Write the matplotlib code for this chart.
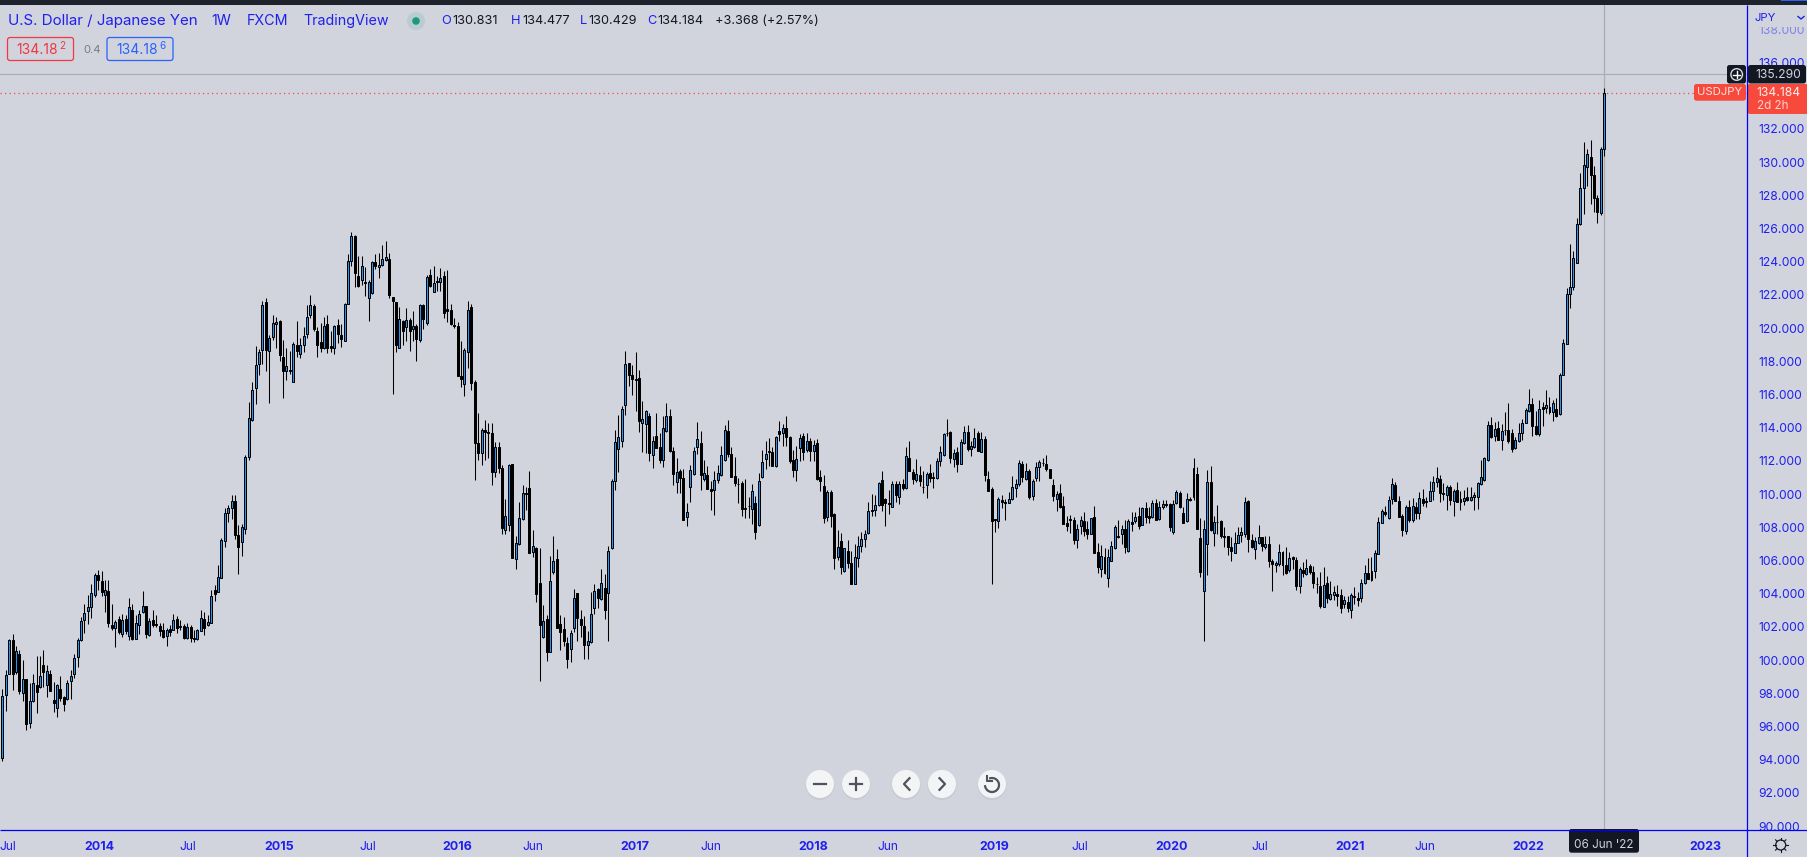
import numpy as np
import matplotlib
matplotlib.use('Agg')
import matplotlib.pyplot as plt
from matplotlib.patches import Rectangle, Circle, FancyBboxPatch

# weekly USDJPY candles
opens = [
    94.34,98.14,99.4,101.4,99.5,100.6,98.24,99.06,96.44,97.76,
    98.76,98.6,99.9,98.72,99.4,97.84,97.36,98.5,98,97.9,
    98.98,99.4,100.4,101.42,102.64,103.18,103.4,104.14,105.34,104.94,
    104.14,104.34,102.34,102.16,102.7,101.76,102.66,101.66,103.2,101.5,
    102.32,103.1,103.44,101.7,102.6,102.4,102.28,102.04,101.66,102.1,
    102.04,102.7,102.26,102.28,101.54,102.2,101.56,101.5,101.98,102.7,
    102.3,102.46,104.44,104.3,105.16,107.36,109,109.3,109.75,107.7,
    107.3,108.1,112.4,114.58,116.54,117.94,118.78,121.68,118.72,119.54,
    120.32,120.54,118.38,117.52,117.6,116.9,119.08,118.54,119.06,119.72,
    120.88,121.42,119.92,119.28,118.9,120.34,119.02,118.9,120.3,119.68,
    119.32,121.54,124.1,125.64,123.24,122.96,122.88,121.88,122.18,124.06,
    123.76,123.88,124.16,124.24,121.96,121.68,118.94,120.54,120.16,120.58,
    120.04,120.24,119.38,121.48,120.38,123.28,122.26,122.9,122.86,123.24,
    121.24,121.18,120.28,120.22,117.22,116.74,118.68,121.36,116.86,113.2,
    112.6,114,113.9,113.8,111.5,113,111.73,108.03,108.29,111.95,
    106.29,107.15,108.67,110.25,110.53,106.67,106.93,104.81,101.61,102.71,
    100.71,105.47,106.27,102.41,102.11,101.27,100.91,102.15,104.23,102.71,
    102.29,101.15,101.31,103.35,104.47,103.91,104.53,104.21,106.93,110.97,
    112.85,113.33,115.47,118.01,117.29,117.05,117.13,114.39,114.35,114.85,
    112.53,113.65,112.99,112.19,113.93,114.85,112.73,110.91,111.53,111.13,
    108.77,110.61,111.35,113.01,113.21,111.09,111.29,110.45,110.39,110.99,
    111.29,112.19,113.95,112.56,111.24,110.78,110.82,109.3,109.42,109.26,
    109.62,108.3,111.18,112.24,112.72,112.68,111.82,113.94,113.82,114.12,
    113.58,112.2,111.58,112.9,113.62,112.78,113.36,112.72,113.24,111.18,
    110.64,108.82,110.28,108.98,106.42,107.36,105.56,106.76,106.02,104.76,
    106.36,107.04,107.46,107.86,109.2,109.2,109.5,111,109.86,109.62,
    109.38,110.76,109.96,110.76,110.5,112.34,111.48,111.02,111.32,110.58,
    110.7,111.42,111.18,111.1,112.14,112.5,113.82,113.88,112.28,112.66,
    111.96,113.22,113.88,112.84,112.96,113.8,112.66,113.48,111.06,110.46,
    108.66,108.58,109.8,109.66,109.62,109.84,110.54,110.74,111.96,111.08,
    111.54,110.02,111.1,111.78,112.02,111.96,111.66,110.72,109.86,110.22,
    109.44,108.44,108.66,108.6,107.4,108.28,108.54,108.06,107.8,108.78,
    106.68,105.66,106.4,105.12,106.18,106.92,107.66,107.8,108.06,106.74,
    108.48,108.54,108.84,108.34,109.32,108.86,108.78,109.6,108.68,109.38,
    109.56,109.56,107.92,109.62,110.21,109.05,108.57,109.85,109.97,111.39,
    107.53,104.33,107.17,110.89,107.81,108.49,108.57,107.63,107.65,106.97,
    106.63,107.23,107.71,107.75,109.75,107.41,106.87,107.23,107.57,106.97,
    107.17,106.15,105.91,105.95,106.69,105.93,105.59,106.39,106.21,104.63,
    105.61,105.37,105.87,105.49,104.79,104.65,103.43,104.83,103.87,104.13,
    104.17,104.13,103.61,103.69,103.21,104.01,103.93,103.93,104.85,105.43,
    105.01,105.55,106.59,108.43,109.09,108.73,109.85,110.73,109.77,108.87,
    107.98,109.4,108.64,109.4,109.02,109.88,109.74,109.74,110.34,110.86,
    111.08,110.22,110.08,110.58,109.76,110.4,109.66,109.72,109.98,109.78,
    109.96,109.96,110.74,110.98,112.2,114.3,113.64,114.12,113.4,114.02,
    114,113.84,112.92,113.34,113.82,114.42,115.16,115.56,114.24,113.74,
    115.38,115.32,115.4,115.06,115.26,114.96,117.32,119.16,122.12,122.58,
    124.02,126.32,128.48,129.72,130.34,129.26,127.88,127.02,130.831,
]
closes = [
    98.06,99.34,101.4,99.36,100.76,98.4,99.1,96.4,97.78,98.86,
    98.3,99.28,99.5,99.56,98.4,97.64,98.76,97.96,97.6,98.86,
    99.28,100.36,101.44,102.58,103.04,103.4,104.26,105.34,105,104.3,
    104.44,102.44,102.16,102.52,101.9,102.64,101.94,103.4,101.46,102.44,
    103,103.48,101.8,102.56,102.34,102.3,101.96,101.6,102.04,101.9,
    102.64,102.16,102.2,101.54,102.2,101.54,101.5,102,102.76,102.14,
    102.52,104.08,104.2,105.2,107.44,109,109.3,109.75,107.72,107,
    108.2,112.4,114.7,116.38,117.88,118.66,121.5,118.78,119.5,120.4,
    120.48,118.5,117.54,117.82,117.54,119.14,118.76,119.08,119.6,120.76,
    121.48,120.02,119.1,118.94,120.22,118.9,118.94,120.22,119.76,119.42,
    121.54,124.1,125.64,123.4,122.64,123.82,122.8,122.88,124.06,123.8,
    123.88,124.24,124.36,122.06,121.7,119.06,120.64,119.94,120.58,119.92,
    120.22,119.42,121.5,120.62,123.18,122.6,122.8,122.84,123.1,120.98,
    121.1,120.34,120.22,117.26,117.04,118.78,121.18,116.84,113.2,112.6,
    114,113.9,113.8,111.5,113,111.7,108.15,108.83,111.89,106.35,
    107.21,108.73,110.21,110.19,106.65,107.03,104.19,102.33,102.59,100.71,
    104.93,106.13,102.15,101.91,101.39,100.29,101.87,103.97,102.75,102.33,
    101.15,101.39,103.01,104.33,103.95,104.81,103.23,106.73,110.93,113.27,
    113.57,115.25,117.97,117.27,117.03,116.97,114.53,114.65,115.13,112.65,
    113.33,112.95,112.21,114.09,114.83,112.75,111.39,111.47,111.15,108.63,
    109.07,111.59,112.73,113.45,111.33,111.41,110.49,110.37,110.99,111.41,
    112.49,114.01,112.59,111.2,110.8,110.74,109.26,109.24,109.44,110.34,
    107.92,110.94,112.08,112.56,112.66,111.86,113.58,113.74,114.12,113.56,
    112.16,111.58,112.24,113.52,112.66,113.34,112.72,113.1,111.08,110.92,
    108.72,110.3,108.86,106.36,106.98,105.82,106.92,106.04,104.8,106.38,
    107.04,107.46,107.76,109.14,109.14,109.48,110.82,109.48,109.62,109.56,
    110.76,110.08,110.76,110.52,112.44,111.52,111.04,111.36,110.92,110.58,
    111.36,111.12,111.12,112.14,112.68,113.76,113.82,112.3,112.6,111.96,
    113.28,113.88,112.86,113.04,113.52,112.76,113.44,111.28,110.32,108.56,
    108.6,109.86,109.66,109.6,109.86,110.56,110.76,112.02,111.2,111.54,
    110,110.94,111.78,112.08,112,111.64,111.14,110.02,110.16,109.36,
    108.4,108.28,108.62,107.44,108.06,108.6,107.98,107.8,108.72,106.66,
    105.82,106.44,105.46,106.38,107.04,108.18,107.58,108.06,107.02,108.54,
    108.4,108.8,108.28,109.32,108.82,108.72,109.62,108.64,109.4,109.56,
    109.5,108.22,109.56,110.28,109.37,108.45,109.85,109.79,111.73,108.05,
    105.47,108.07,110.89,108.01,108.49,108.51,107.63,107.57,106.97,106.73,
    107.23,107.71,107.87,109.69,107.45,106.97,107.35,107.57,107.03,107.17,
    106.17,105.95,106.01,106.69,105.91,105.43,106.33,106.25,104.67,105.67,
    105.41,105.73,105.49,104.81,104.77,103.47,104.69,103.97,104.17,104.29,
    104.07,103.37,103.81,103.37,104.11,104.03,103.85,104.83,105.43,105.07,
    105.55,106.63,108.49,109.15,108.97,109.81,110.77,109.77,108.81,107.99,
    109.38,108.64,109.44,109,109.92,109.6,109.66,110.34,110.88,111.12,
    110.2,110.14,110.58,109.78,110.34,109.66,109.84,109.92,109.78,109.98,
    110.1,110.82,111.18,112.32,114.3,113.56,114.06,113.42,113.94,114,
    113.32,112.84,113.38,113.82,114.42,115.2,115.56,114.24,113.74,115.26,
    115.24,115.5,115.06,115.62,114.82,117.32,119.18,122.12,122.54,124.28,
    126.36,128.48,129.86,130.52,129.24,127.88,127.08,130.8,134.184,
]
highs = [
    98.5,99.64,101.5,101.76,101.06,100.8,100.2,99.06,98.86,99.36,
    100.44,100.44,100.8,99.9,99.6,98.94,98.8,99.24,98.1,99.04,
    99.6,100.6,101.56,102.8,103.56,104.1,104.8,105.46,105.6,105.54,
    105,105.04,103.6,102.6,102.84,103,102.9,103.96,103.6,102.9,
    103.2,104.34,103.44,102.76,103.2,102.9,102.46,102.44,102.16,102.3,
    103,102.84,102.6,102.36,102.44,102.3,102,102.1,103.24,103.1,
    102.9,104.4,104.7,105.9,107.56,109.3,109.5,110.1,110.1,108.3,
    108.4,112.5,115.7,116.86,119.04,118.84,121.74,121.9,119.68,120.9,
    120.74,120.58,119.4,118.94,118.74,119.28,120.54,119.5,120.14,121.5,
    122.1,121.54,120.14,120.42,120.74,120.9,119.94,120.3,120.64,120.34,
    121.6,124.54,125.88,125.7,124.44,124.44,123.78,122.98,124.1,124.54,
    124.58,125.1,125.34,124.62,121.96,121.68,121.38,120.58,121.3,120.7,
    121.14,120.34,121.54,121.54,123.3,123.64,123.84,123.24,123.7,123.54,
    123.58,121.54,120.7,120.44,119.3,118.94,121.74,121.54,117,115,
    114.1,114.6,114.4,114.4,113.3,113.3,111.91,109.85,111.95,111.95,
    107.65,109.67,110.69,110.59,111.55,107.99,106.99,106.91,103.55,102.95,
    106.45,107.65,106.85,102.95,102.79,101.59,102.05,104.45,104.25,103.25,
    102.89,101.99,104.31,104.75,104.55,105.65,105.35,107.05,111.05,113.99,
    114.91,115.45,118.75,118.01,117.91,118.69,117.61,115.75,115.19,115.03,
    113.65,115.03,113.85,114.85,115.63,115.25,112.99,112.35,111.65,111.65,
    109.65,111.91,112.99,114.49,113.95,112.19,111.85,110.95,111.55,111.91,
    113.05,114.31,114.61,113,112.36,111.1,110.96,111.06,109.96,110.76,
    110.06,111.42,112.8,113.32,113.52,112.96,113.66,114.56,114.36,114.86,
    113.66,112.8,113.06,113.76,113.8,113.8,113.5,113.4,113.46,111.6,
    111.32,110.4,110.4,109,108,107.86,106.96,107.4,106.76,107.16,
    107.66,107.92,108,109.66,110.16,110.12,110.86,111.52,109.92,110.4,
    110.96,110.92,110.96,111.06,112.96,113.32,111.66,112.26,111.82,111.56,
    111.46,111.96,111.46,112.32,113.06,113.82,114.66,113.92,112.86,112.96,
    113.46,114.26,114.32,113.32,114.12,113.96,113.86,113.66,111.56,110.6,
    108.7,110,110.12,109.86,110.26,111.26,111.06,112.2,112.16,112.02,
    111.66,111.06,112.06,112.2,112.32,112.5,111.66,111.06,110.32,110.76,
    110.06,108.86,108.92,108.8,108.36,108.86,109.06,108.56,108.76,109.46,
    107.26,107.12,106.96,106.86,107.36,108.32,108.6,108.32,108.6,108.66,
    109.1,109.06,109.36,109.4,109.66,109.36,109.8,109.86,109.76,109.82,
    109.8,109.6,109.8,110.4,110.37,109.41,110.21,109.97,112.33,111.77,
    108.73,108.61,111.61,111.87,108.87,109.53,108.61,108.21,107.67,107.57,
    107.87,108.21,108.21,110.01,109.81,107.77,107.57,108.33,107.61,107.67,
    107.67,106.27,106.17,107.17,106.77,107.01,106.71,106.47,106.37,105.81,
    106.07,106.27,105.97,105.87,105.21,105.47,105.81,105.27,104.97,104.67,
    104.73,104.47,104.07,104.07,104.21,104.57,104.27,105.07,105.93,106.33,
    106.37,106.81,108.81,109.27,109.47,110.07,111.11,110.87,110.07,108.97,
    109.52,109.8,109.92,109.66,110.3,110.46,109.96,110.96,111.26,111.8,
    111.32,110.84,110.72,110.72,110.46,110.9,110.32,110.4,110.56,110.6,
    110.3,110.9,112.22,112.4,114.56,114.8,114.46,114.56,114.36,115.1,
    115.64,114.06,113.56,114.4,114.66,115.32,116.46,115.92,115.12,115.8,
    115.66,116.4,116,115.82,115.92,117.4,119.42,122.48,125.12,124.7,
    126.68,129.38,131.26,130.82,131.36,129.82,128.08,130.96,134.477,
]
lows = [
    94.2,97.2,99.36,98.46,99.4,98.2,97.8,96.06,96.14,97.7,
    97.04,98.56,98.6,98,98.36,97.14,96.8,97.8,97.16,97.86,
    97.9,99.14,99.8,101.38,101.84,102.4,102.74,104,104.4,104.06,
    103.1,102.2,102,101,101.76,101.6,101.8,101.4,101.4,101.46,
    101.8,103.04,101.56,101.68,102.2,102.2,101.64,101.56,101.06,101.64,
    102,101.84,102,101.5,101.5,101.3,101.3,101.4,101.94,101.7,
    102.24,102.44,103.76,104.28,105.14,107,108.5,108.7,107.5,105.4,
    106.46,107.8,112.2,114.54,115.58,117.3,117.98,117.54,115.64,119.4,
    118.94,118.14,115.94,117.02,117.38,116.9,118.4,118.34,118.7,119.5,
    120.7,119.94,118.4,118.7,118.84,118.64,118.7,118.58,119.18,118.98,
    119.3,121.54,123.8,122.54,122.54,122.68,122,120.5,122.14,123.64,
    123.08,123.84,124.1,121.88,116.18,118.7,118.9,119.1,119.3,118.74,
    119.34,118.14,119.24,120.04,120.3,122.54,122.24,122.34,122.34,120.68,
    120.44,120.3,120.1,117.26,116.58,116.06,117.74,116.42,111,112.2,
    111.9,112.2,112.3,110.7,111.2,111.4,107.79,107.79,107.95,106.35,
    105.69,107.11,108.63,109.23,106.65,106.41,103.71,98.99,101.55,100.15,
    100.71,105.35,102.15,100.85,101.05,99.75,100.11,101.91,101.35,101.59,
    100.29,100.29,101.25,102.99,103.35,103.85,102.67,101.39,106.89,110.43,
    111.51,112.99,114.87,116.65,116.11,115.15,113.91,112.69,112.65,112.15,
    111.75,112.95,112.05,111.79,113.89,112.69,110.71,110.25,110.23,108.63,
    108.25,109.69,111.31,112.55,110.39,110.95,110.49,109.23,108.93,110.85,
    111.25,112.15,112.39,111.16,110.66,109.6,108.86,108.76,108.76,108.4,
    107.5,108.26,111.14,111.64,111.82,111.82,111.8,113.36,113.06,113.06,
    112,111.2,110.96,112.12,112.2,112.66,112.16,112.16,111.02,110.32,
    108.46,108.56,108.2,105.7,106.22,105.4,105.52,105.76,104.8,104.76,
    105.8,106.72,107,107.8,108.86,108.86,109.44,109.12,108.26,108.96,
    109.36,109.7,109.56,110.4,110.46,111.52,110.76,110.86,110.66,110.2,
    109.9,110.86,110.5,111.06,111.82,112.46,113.66,112,111.76,111.46,
    111.96,113.16,112.76,112.42,112.92,112.72,112.66,110.96,110.32,104.8,
    107.92,108.16,109.32,108.62,109.6,109.8,109.96,110.66,110.86,111.02,
    109.86,109.8,110.92,110.96,111.86,111.56,111.14,109.76,109.16,109.32,
    108.4,107.96,107.86,107.2,106.96,107.76,107.66,107.46,107.76,106.66,
    105.46,105.2,105.36,104.62,106.16,106.86,107.56,107.2,106.66,106.7,
    107.96,108.46,108.06,108.32,108.46,108.46,108.76,108.6,108.6,109.26,
    109.36,107.96,107.8,109.56,109.31,108.45,108.47,109.73,109.81,108.05,
    105.17,101.37,105.33,107.93,107.07,107.77,107.53,106.97,106.53,106.17,
    106.61,107.21,107.27,107.57,106.71,106.93,106.25,107.17,106.77,106.87,
    105.81,104.37,105.47,105.87,105.31,105.37,105.47,105.67,104.43,104.21,
    105.17,105.33,105.37,104.51,104.21,103.37,103.41,103.67,103.81,103.81,
    103.47,103.07,103.37,103.13,102.77,103.57,103.47,103.73,104.77,105.07,
    104.97,105.13,106.57,108.41,108.87,108.67,109.57,109.73,108.77,107.63,
    107.8,108.52,108.52,108.7,108.7,109.46,109.36,109.72,109.82,110.56,
    109.66,109.82,109.22,109.52,108.86,109.66,109.22,109.52,109.72,109.72,
    109.22,109.28,110.68,110.96,112.16,113.52,113.36,113.4,112.82,113.72,
    113.2,112.66,112.88,113.26,113.42,114.4,115.06,113.62,113.72,113.62,
    114.26,115.02,114.96,114.52,114.76,114.88,117.28,119.12,121.32,122.36,
    124,126.28,126.96,128.62,127.56,127.08,126.4,126.88,130.429,
]

tick_bars = [1.7, 28.5, 54.2, 80.8, 106.8, 132.8, 155, 184.8, 207, 236.8,
             258.7, 289.7, 314.8, 341.7, 367.4, 393.7, 415.6, 445.7, 497.7]
tick_labels = ['Jul', '2014', 'Jul', '2015', 'Jul', '2016', 'Jun', '2017', 'Jun', '2018',
               'Jun', '2019', 'Jul', '2020', 'Jul', '2021', 'Jun', '2022', '2023']
# 134 is hidden behind the last price label
price_ticks = [90, 92, 94, 96, 98, 100, 102, 104, 106, 108, 110, 112, 114, 116, 118,
               120, 122, 124, 126, 128, 130, 132, 136, 138]
cross_price = 135.29
last_price = 134.184

BG = '#d1d4dc'
BLUE = '#1f1fee'
RED = '#f7493c'
DARK = '#131722'
FONT = 'Inter'

# my pixel readings used 16.7 px per yen, the axis really has 16.6
cal = 16.7 / 16.6
opens = 136 - (136 - np.array(opens)) * cal
closes = 136 - (136 - np.array(closes)) * cal
highs = 136 - (136 - np.array(highs)) * cal
lows = 136 - (136 - np.array(lows)) * cal
bars = np.arange(len(opens))
up = closes >= opens

W, H = 1808, 857
fig = plt.figure(figsize=(W / 100, H / 100), dpi=100, facecolor=BG)
ax = fig.add_axes([0, (H - 830.3) / H, 1747.3 / W, (830.3 - 5) / H], facecolor=BG)
ax.set_xlim((0 - 2.3) / 3.423, (1747.3 - 2.3) / 3.423)
ax.set_ylim(136 - (830.3 - 62.6) / 16.6, 136 + (62.6 - 5) / 16.6)
for s in ax.spines.values():
    s.set_visible(False)

ax.vlines(bars, lows, highs, color='black', lw=0.75, zorder=3, snap=True)
ax.bar(bars[up], (closes - opens)[up], bottom=opens[up], width=0.58,
       facecolor='#2196f3', edgecolor='black', linewidth=0.72, zorder=4)
ax.bar(bars[~up], (closes - opens)[~up], bottom=opens[~up], width=0.58,
       facecolor='black', edgecolor='black', linewidth=0.72, zorder=4)

ax.axhline(cross_price, color='#a9acb4', lw=0.8, zorder=2)
ax.axvline(bars[-1], color='#a9acb4', lw=0.9, zorder=2)
ax.axhline(last_price, color=RED, lw=0.9, ls=(0, (1, 2.6)), zorder=2)

ax.yaxis.tick_right()
ax.set_yticks(price_ticks, ['%.3f' % p for p in price_ticks])
ax.tick_params(axis='y', length=0, pad=8, labelsize=8.7, labelcolor=BLUE)
ax.set_xticks(tick_bars, tick_labels)
ax.tick_params(axis='x', length=0, pad=7.6, labelsize=8.7, labelcolor=BLUE)
for lab in ax.get_yticklabels():
    lab.set_family(FONT)
    if lab.get_text() == '138.000':
        lab.set_alpha(0.45)
for lab in ax.get_xticklabels():
    lab.set_family(FONT)
    if lab.get_text().isdigit():
        lab.set_fontweight('bold')
        lab.set_fontsize(9)

# everything around the plot, drawn in pixel coordinates
ov = fig.add_axes([0, 0, 1, 1], facecolor='none', zorder=10)
ov.set_xlim(0, W)
ov.set_ylim(H, 0)
ov.axis('off')

ov.add_patch(Rectangle((0, 0), W, 4.6, fc='#1e222d', ec='none'))
ov.add_patch(Rectangle((1781, 0), 27, 1.2, fc='#2962ff', ec='none'))
ov.add_patch(Rectangle((1748, 5), 60, 22, fc=BG, ec='none'))
ov.add_patch(Rectangle((1748, 830.6), 60, 27, fc=BG, ec='none'))
ov.plot([0, W], [830.3, 830.3], color='#0000ff', lw=0.9, solid_capstyle='butt')
ov.plot([1747.3, 1747.3], [5, H], color='#0000ff', lw=0.9, solid_capstyle='butt')
ov.text(1765, 18, 'JPY', color=BLUE, fontsize=8.2, family=FONT, ha='center', va='center')
ov.plot([1798, 1801, 1804], [16.5, 19, 16.5], color=BLUE, lw=1)


def box(x0, y0, x1, y1, fc, ec='none', r=2.5, lw=0.9):
    ov.add_patch(FancyBboxPatch((x0 + r, y0 + r), x1 - x0 - 2 * r, y1 - y0 - 2 * r,
                                boxstyle='round,pad=%g,rounding_size=%g' % (r, r),
                                fc=fc, ec=ec, lw=lw))


# legend row
ov.text(8.5, 21, 'U.S. Dollar / Japanese Yen', color=BLUE, fontsize=10.9, family=FONT, va='center')
ov.text(211, 21, '1W', color=BLUE, fontsize=10.3, family=FONT, va='center')
ov.text(247, 21, 'FXCM', color=BLUE, fontsize=10.3, family=FONT, va='center')
ov.text(303, 21, 'TradingView', color=BLUE, fontsize=10.3, family=FONT, va='center')
ov.add_patch(Circle((416, 21), 9, fc='#b9cdd0', ec='none'))
ov.add_patch(Circle((416, 21), 3.8, fc='#1a9a82', ec='none'))
for name, x0, val, x1 in [('O', 441, '130.831', 452), ('H', 511, '134.477', 522),
                          ('L', 580, '130.429', 588), ('C', 647, '134.184', 657)]:
    ov.text(x0, 21, name, color=BLUE, fontsize=9.2, family=FONT, va='center')
    ov.text(x1, 21, val, color='#131722', fontsize=9.2, family=FONT, va='center')
ov.text(715, 21, '+3.368 (+2.57%)', color='#131722', fontsize=9.2, family=FONT, va='center')

box(7.5, 37.5, 73.5, 60.5, 'none', ec='#f23645')
ov.text(16, 49.5, '134.18', color='#f23645', fontsize=10, family=FONT, va='center')
ov.text(59.5, 46, '2', color='#f23645', fontsize=7.2, family=FONT, va='center')
ov.text(83, 50, '0.4', color='#787b86', fontsize=8, family=FONT, va='center')
box(107, 37.5, 173, 60.5, 'none', ec='#2962ff')
ov.text(116, 49.5, '134.18', color='#2962ff', fontsize=10, family=FONT, va='center')
ov.text(159.5, 46, '6', color='#2962ff', fontsize=7.2, family=FONT, va='center')

# price labels on the right
box(1727, 65, 1746, 83.5, DARK)
box(1748, 65, 1806, 83.5, DARK)
ov.add_patch(Circle((1736.7, 74.5), 5.8, fc='none', ec='#d8dae0', lw=1))
ov.plot([1733.5, 1739.9], [74.5, 74.5], color='white', lw=1)
ov.plot([1736.7, 1736.7], [71.3, 77.7], color='white', lw=1)
ov.text(1778, 74.5, '135.290', color='#d1d4dc', fontsize=8.7, family=FONT, ha='center', va='center')
box(1694, 84, 1746, 100.7, RED)
ov.text(1720, 92.3, 'USDJPY', color='#fbe3e0', fontsize=8.2, family=FONT, ha='center', va='center')
box(1747.5, 84, 1808, 114, RED)
ov.text(1778, 92.5, '134.184', color='#fff0ee', fontsize=8.7, family=FONT, ha='center', va='center')
ov.text(1757.5, 105.5, '2d 2h', color='#fbd5d0', fontsize=8.4, family=FONT, va='center')

# date label under the crosshair
box(1569, 829, 1639, 852.7, DARK)
ov.text(1604, 844.5, "06 Jun '22", color='#d1d4dc', fontsize=8.4, family=FONT, ha='center', va='center')

# settings gear
ov.add_patch(Circle((1780.7, 845), 5, fc='none', ec='#131722', lw=0.9))
for a in np.arange(0, 360, 45):
    c, s = np.cos(np.radians(a)), np.sin(np.radians(a))
    ov.plot([1780.7 + 5 * c, 1780.7 + 7.3 * c], [845 + 5 * s, 845 + 7.3 * s], color='#131722', lw=0.8)

# zoom and scroll buttons
ICON = '#50535e'
for cx in [820, 856, 906, 942, 992]:
    ov.add_patch(Circle((cx, 785.5), 14.5, fc='#c3c6cf', ec='none', alpha=0.7))
    ov.add_patch(Circle((cx, 784), 14, fc='#f3f4f6', ec='none'))
ov.plot([814, 826], [784, 784], color=ICON, lw=1.6)
ov.plot([850, 862], [784, 784], color=ICON, lw=1.6)
ov.plot([856, 856], [778, 790], color=ICON, lw=1.6)
ov.plot([909.5, 904, 909.5], [778.2, 784, 789.8], color=ICON, lw=1.6)
ov.plot([939.5, 945, 939.5], [778.2, 784, 789.8], color=ICON, lw=1.6)
# reset icon: open circle with a small arrow head at its upper left
t = np.radians(np.linspace(-105, 170, 40))
ov.plot(992 + 7 * np.cos(t), 785 + 7 * np.sin(t), color=ICON, lw=1.6)
ov.plot([987, 987, 992], [775.5, 780.5, 780.5], color=ICON, lw=1.5)

fig.savefig('out.png', dpi=100, facecolor=BG)
